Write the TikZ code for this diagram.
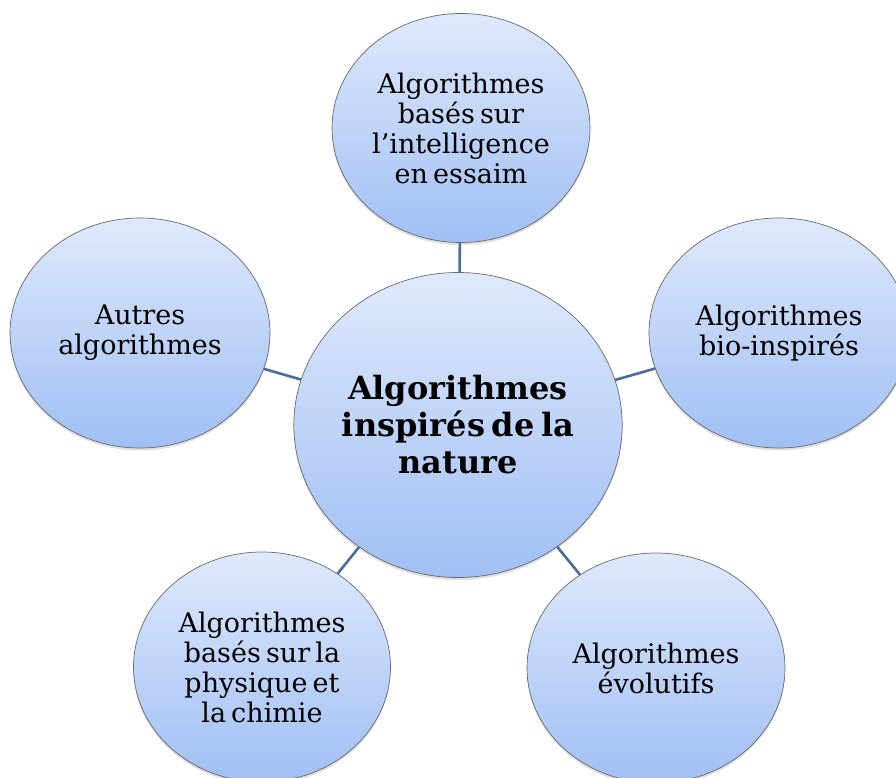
\documentclass[tikz,border=0pt]{standalone}
\usepackage{fontspec}
\setmainfont[WordSpace={0.6,0,0}]{DejaVu Serif}
\usetikzlibrary{shapes.geometric,shadows}

\definecolor{bubbletop}{RGB}{222,233,252}
\definecolor{bubblebottom}{RGB}{160,191,244}
\definecolor{bubbleedge}{RGB}{105,105,110}
\definecolor{linkblue}{RGB}{72,110,155}

\tikzset{
  bubble/.style={ellipse, draw=bubbleedge, line width=0.7pt,
    top color=bubbletop, bottom color=bubblebottom,
    inner sep=0pt, align=center,
    drop shadow={opacity=0.25, shadow xshift=0pt, shadow yshift=-2.5pt},
    font=\fontsize{27}{30}\selectfont},
  hub/.style={bubble, font=\fontsize{32}{37}\selectfont\bfseries},
  link/.style={draw=linkblue, line width=2.6pt}
}

\begin{document}
\begin{tikzpicture}[x=1pt, y=-1pt]
  \useasboundingbox[fill=white] (0,0) rectangle (896,778);

  % central topic
  \node[hub, minimum width=325pt, minimum height=305pt] (c) at (458,425)
    {Algorithmes\\inspirés de la\\nature};

  % surrounding families
  \node[bubble, minimum width=258pt, minimum height=229pt] (t) at (461,128)
    {Algorithmes\\basés sur\\l’intelligence\\en essaim};
  \node[bubble, minimum width=260pt, minimum height=230pt] (l) at (140,333)
    {Autres\\algorithmes};
  \node[bubble, minimum width=260pt, minimum height=230pt] (r) at (779,333)
    {Algorithmes\\bio-inspirés};
  \node[bubble, minimum width=257pt, minimum height=230pt] (bl) at (262,667)
    {Algorithmes\\basés sur la\\physique et\\la chimie};
  \node[bubble, minimum width=258pt, minimum height=230pt] (br) at (656,668)
    {Algorithmes\\évolutifs};

  % spokes from the hub
  \draw[link] (c) -- (t);
  \draw[link] (c) -- (l);
  \draw[link] (c) -- (r);
  \draw[link] (c) -- (bl);
  \draw[link] (c) -- (br);
\end{tikzpicture}
\end{document}
